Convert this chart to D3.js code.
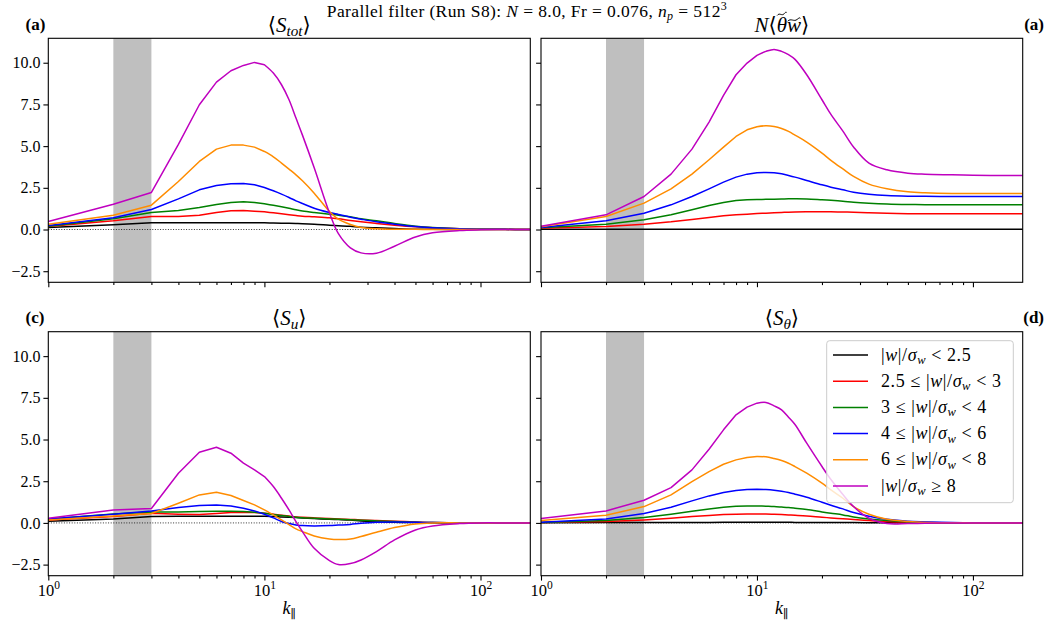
<!DOCTYPE html>
<html>
<head>
<meta charset="utf-8">
<script src="https://cdn.jsdelivr.net/npm/d3@7"></script>
<style>
  body { margin: 0; background: #fff; }
  svg { display: block; }
  text { font-family: "Liberation Serif", "DejaVu Serif", serif; fill: #000; }
</style>
</head>
<body>
<svg id="chart" width="1050" height="625"></svg>
<script>
// Parallel wavenumber k_par (integer shells, sampled)
const kPar = [1,2,3,4,5,6,7,8,9,10,11,12,13,14,15,17,20,22,25,28,33,40,50,60,80,100,130,170];

// Conditioning bins on |w|/sigma_w: lower / upper bounds and line colours
const binLo = [null, 2.5, 3, 4, 6, 8];
const binHi = [2.5, 3, 4, 6, 8, null];
const binColors = ["#000000", "#ff0000", "#008000", "#0000ff", "#ff8c00", "#bf00bf"];

// Filter band (shaded region)
const bandK = [2, 3];

// <S_tot> per bin (rows follow binLo/binHi order)
const sTot = [
  [0.12,0.28,0.40,0.40,0.40,0.40,0.40,0.40,0.40,0.40,0.39,0.38,0.37,0.36,0.35,0.32,0.26,0.23,0.19,0.14,0.10,0.06,0.02,0.01,0,0,0,0],
  [0.18,0.52,0.78,0.78,0.86,1.02,1.12,1.14,1.10,1.06,1.00,0.94,0.89,0.84,0.80,0.76,0.70,0.64,0.54,0.46,0.36,0.26,0.16,0.10,0.04,0.02,0.01,0],
  [0.20,0.64,1.02,1.14,1.32,1.50,1.62,1.66,1.62,1.54,1.45,1.36,1.27,1.18,1.11,1.02,0.92,0.86,0.76,0.64,0.52,0.36,0.20,0.12,0.04,0.02,0.01,0],
  [0.24,0.70,1.20,1.84,2.38,2.64,2.74,2.76,2.68,2.52,2.32,2.12,1.92,1.72,1.56,1.28,1.02,0.90,0.74,0.62,0.46,0.32,0.18,0.10,0.04,0.02,0.01,0],
  [0.32,0.86,1.46,2.88,4.08,4.82,5.06,5.06,4.94,4.68,4.36,3.98,3.62,3.28,2.92,2.18,1.08,0.62,0.30,0.12,0.04,0.02,0.01,0,0,0,0,0],
  [0.48,1.52,2.22,5.10,7.48,8.84,9.52,9.84,10.02,9.88,9.38,8.68,7.78,6.68,5.66,3.70,1.00,-0.25,-1.10,-1.40,-1.42,-1.00,-0.45,-0.20,-0.06,-0.02,0,0]
];

// N <theta~ w~> per bin
const thetaW = [
  [0.02,0.01,0.01,0.01,0.01,0.01,0.01,0.01,0.01,0.01,0.01,0.01,0.01,0.01,0.01,0.01,0.01,0.01,0.01,0.01,0.01,0.01,0.01,0.01,0.01,0.01,0.01,0.01],
  [0.08,0.18,0.32,0.46,0.60,0.72,0.82,0.88,0.92,0.96,0.98,1.00,1.02,1.04,1.05,1.06,1.06,1.06,1.05,1.04,1.01,0.98,0.95,0.94,0.94,0.94,0.94,0.94],
  [0.10,0.32,0.58,0.88,1.18,1.44,1.62,1.74,1.78,1.80,1.81,1.82,1.83,1.84,1.84,1.83,1.78,1.75,1.70,1.64,1.58,1.53,1.50,1.49,1.48,1.48,1.48,1.48],
  [0.12,0.52,0.98,1.48,1.98,2.44,2.84,3.14,3.32,3.40,3.42,3.40,3.34,3.24,3.14,2.94,2.68,2.54,2.38,2.24,2.12,2.04,2.00,1.99,1.98,1.98,1.98,1.98],
  [0.16,0.78,1.58,2.44,3.32,4.18,4.94,5.58,5.98,6.16,6.22,6.18,6.06,5.88,5.66,5.24,4.58,4.15,3.63,3.18,2.72,2.44,2.26,2.20,2.16,2.16,2.16,2.16],
  [0.20,0.88,1.98,3.32,4.82,6.44,8.04,9.28,9.98,10.44,10.68,10.80,10.68,10.48,10.20,9.28,7.78,6.90,5.90,4.95,3.98,3.58,3.38,3.32,3.28,3.25,3.24,3.24]
];

// <S_u> per bin
const sU = [
  [0.10,0.24,0.38,0.40,0.40,0.40,0.40,0.40,0.40,0.40,0.39,0.36,0.34,0.32,0.30,0.26,0.22,0.20,0.17,0.12,0.08,0.04,0.02,0.01,0,0,0,0],
  [0.18,0.38,0.58,0.52,0.50,0.56,0.62,0.64,0.62,0.58,0.52,0.46,0.41,0.36,0.34,0.30,0.26,0.24,0.21,0.18,0.14,0.10,0.06,0.02,0.01,0,0,0],
  [0.24,0.54,0.66,0.66,0.68,0.70,0.70,0.68,0.64,0.58,0.51,0.44,0.39,0.34,0.31,0.28,0.24,0.22,0.19,0.16,0.12,0.08,0.04,0.02,0.01,0,0,0],
  [0.24,0.52,0.72,0.92,1.04,1.08,1.02,0.88,0.72,0.52,0.30,0.08,-0.04,-0.12,-0.16,-0.18,-0.16,-0.13,-0.09,-0.02,0.04,0.06,0.04,0.02,0.01,0,0,0],
  [0.18,0.42,0.56,1.18,1.68,1.84,1.64,1.34,1.08,0.78,0.48,0.18,-0.10,-0.36,-0.52,-0.78,-0.96,-1.00,-0.97,-0.82,-0.56,-0.28,-0.06,0,0,0,0,0],
  [0.28,0.78,0.86,2.98,4.24,4.54,4.18,3.58,3.18,2.78,2.18,1.48,0.78,0.08,-0.52,-1.52,-2.26,-2.50,-2.44,-2.22,-1.72,-1.02,-0.42,-0.18,-0.04,0,0,0]
];

// <S_theta> per bin
const sTheta = [
  [0.01,0.02,0.02,0.03,0.03,0.03,0.04,0.04,0.04,0.04,0.04,0.04,0.04,0.04,0.03,0.03,0.03,0.02,0.02,0.02,0.01,0.01,0,0,0,0,0,0],
  [0.02,0.08,0.18,0.28,0.38,0.44,0.50,0.52,0.54,0.54,0.54,0.52,0.50,0.48,0.46,0.42,0.34,0.30,0.25,0.20,0.14,0.08,0.04,0.02,0.01,0,0,0],
  [0.02,0.14,0.32,0.52,0.70,0.84,0.94,1.00,1.02,1.02,1.00,0.98,0.95,0.92,0.88,0.80,0.66,0.58,0.48,0.36,0.24,0.14,0.06,0.02,0.01,0,0,0],
  [0.04,0.24,0.56,0.94,1.32,1.62,1.82,1.94,2.00,2.02,2.00,1.96,1.90,1.82,1.72,1.54,1.24,1.06,0.84,0.62,0.40,0.22,0.10,0.06,0.02,0.01,0,0],
  [0.14,0.46,0.98,1.68,2.48,3.08,3.52,3.78,3.92,3.98,3.96,3.86,3.74,3.58,3.38,2.98,2.38,1.98,1.48,0.98,0.52,0.22,0.08,0.02,0.01,0,0,0],
  [0.26,0.72,1.36,2.12,3.18,4.42,5.58,6.48,6.94,7.18,7.22,7.02,6.78,6.34,5.90,4.78,3.38,2.60,1.70,0.98,0.28,-0.04,-0.04,-0.02,0,0,0,0]
];

const yTicks = [-2.5, 0, 2.5, 5, 7.5, 10];
const xMajor = [1, 10, 100];
const xMinor = [2,3,4,5,6,7,8,9,20,30,40,50,60,70,80,90];

// ---- layout ----
const svg = d3.select("#chart");
svg.append("rect").attr("width", 1050).attr("height", 625).attr("fill", "#fff");

const colBox = [{x0: 48.3, x1: 530.3}, {x0: 541, x1: 1022.7}];
const rowBox = [{y0: 38.3, y1: 282.3}, {y0: 331.7, y1: 575.7}];

// shared y-range with 5% padding (sharey)
const allVals = [sTot, thetaW, sU, sTheta].flat(2);
const yMin = d3.min(allVals), yMax = d3.max(allVals);
const yPad = 0.05 * (yMax - yMin);
const yDomain = [yMin - yPad, yMax + yPad];
const xDomain = [kPar[0], kPar[kPar.length - 1]];

const panels = [
  {data: sTot,   row: 0, col: 0, tag: "(a)", tagSide: "left",  title: "tot"},
  {data: thetaW, row: 0, col: 1, tag: "(a)", tagSide: "right", title: "thetaw"},
  {data: sU,     row: 1, col: 0, tag: "(c)", tagSide: "left",  title: "u"},
  {data: sTheta, row: 1, col: 1, tag: "(d)", tagSide: "right", title: "theta"}
];

const FS = 16;       // tick label size
const MAJ = 4.9, MIN = 2.8;

function writeS(t, sub) {
  t.append("tspan").text("\u27E8");
  t.append("tspan").attr("font-style", "italic").text("S");
  t.append("tspan").attr("font-style", "italic").attr("font-size", "0.72em").attr("dy", 4).text(sub);
  t.append("tspan").attr("dy", -4).text("\u27E9");
}

// small tilde accent drawn above a glyph box
function tildeOver(g, box, lift) {
  const w = box.width * 0.9, x0 = box.x + (box.width - w) / 2, y = box.y + lift;
  g.append("path")
    .attr("d", `M${x0},${y + 1.2} C${x0 + w * 0.25},${y - 2.2} ${x0 + w * 0.5},${y + 2.2} ${x0 + w * 0.75},${y - 0.6} S${x0 + w},${y - 1.6} ${x0 + w},${y - 1.6}`)
    .attr("fill", "none").attr("stroke", "#000").attr("stroke-width", 1);
}

// straight segments between the low shells, smooth through the dense high-k range
function seriesPath(x, y, vals) {
  const split = kPar.indexOf(10);
  const lin = d3.line().x((d, i) => x(kPar[i])).y(d => y(d));
  const smooth = d3.line().curve(d3.curveCatmullRom.alpha(0.5))
    .x((d, i) => x(kPar[i + split])).y(d => y(d));
  return lin(vals.slice(0, split + 1)) + smooth(vals.slice(split)).replace(/^M/, "L");
}

panels.forEach((p, pi) => {
  const cb = colBox[p.col], rb = rowBox[p.row];
  const x = d3.scaleLog().domain(xDomain).range([cb.x0, cb.x1]);
  const y = d3.scaleLinear().domain(yDomain).range([rb.y1, rb.y0]);
  const g = svg.append("g");

  const clipId = "clip" + pi;
  g.append("clipPath").attr("id", clipId).append("rect")
    .attr("x", cb.x0).attr("y", rb.y0).attr("width", cb.x1 - cb.x0).attr("height", rb.y1 - rb.y0);

  // filter band
  g.append("rect")
    .attr("x", x(bandK[0])).attr("width", x(bandK[1]) - x(bandK[0]))
    .attr("y", rb.y0).attr("height", rb.y1 - rb.y0)
    .attr("fill", "#bfbfbf");

  // zero reference line
  g.append("line")
    .attr("x1", cb.x0).attr("x2", cb.x1).attr("y1", y(0)).attr("y2", y(0))
    .attr("stroke", "#000").attr("stroke-width", 0.8).attr("stroke-dasharray", "1,1.6");

  const lg = g.append("g").attr("clip-path", `url(#${clipId})`);
  p.data.forEach((vals, si) => {
    lg.append("path").attr("d", seriesPath(x, y, vals))
      .attr("fill", "none").attr("stroke", binColors[si])
      .attr("stroke-width", 1.5).attr("stroke-linejoin", "round");
  });

  // x axis (major + minor)
  const xAxisMaj = d3.axisBottom(x).tickValues(xMajor).tickSize(MAJ).tickFormat(() => "");
  const xAxisMin = d3.axisBottom(x).tickValues(xMinor).tickSize(MIN).tickFormat(() => "");
  const gxm = g.append("g").attr("transform", `translate(0,${rb.y1})`).call(xAxisMin);
  const gx = g.append("g").attr("transform", `translate(0,${rb.y1})`).call(xAxisMaj);
  [gx, gxm].forEach(a => {
    a.select(".domain").remove();
    a.selectAll(".tick line").attr("stroke", "#000").attr("stroke-width", 1.1);
  });
  if (p.row === 1) {
    gx.selectAll(".tick text").each(function(d) {
      const t = d3.select(this).attr("y", 20.5).attr("dy", null)
        .attr("font-size", 16.5).attr("font-family", null);
      t.text("10");
      t.append("tspan").attr("dy", -7).attr("font-size", 11.5).text(Math.round(Math.log10(d)));
    });
    svg.append("text")
      .attr("x", (cb.x0 + cb.x1) / 2).attr("y", 614)
      .attr("text-anchor", "middle").attr("font-size", 18)
      .call(t => {
        t.append("tspan").attr("font-style", "italic").text("k");
        t.append("tspan").attr("font-size", 12).attr("dy", 4).text("\u2225");
      });
  }

  // y axis
  const yAxis = d3.axisLeft(y).tickValues(yTicks).tickSize(MAJ).tickPadding(3)
    .tickFormat(d => p.col === 0 ? (d < 0 ? "\u2212" + (-d).toFixed(1) : d.toFixed(1)) : "");
  const gy = g.append("g").attr("transform", `translate(${cb.x0},0)`).call(yAxis);
  gy.select(".domain").remove();
  gy.selectAll(".tick line").attr("stroke", "#000").attr("stroke-width", 1.1);
  gy.selectAll(".tick text").attr("font-size", FS).attr("font-family", null).attr("fill", "#000");

  // frame
  g.append("rect")
    .attr("x", cb.x0).attr("y", rb.y0).attr("width", cb.x1 - cb.x0).attr("height", rb.y1 - rb.y0)
    .attr("fill", "none").attr("stroke", "#000").attr("stroke-width", 1.1);

  // panel title
  const tt = svg.append("text")
    .attr("x", (cb.x0 + cb.x1) / 2).attr("y", rb.y0 - 6.5)
    .attr("text-anchor", "middle").attr("font-size", 21);
  if (p.title === "thetaw") {
    tt.append("tspan").attr("font-style", "italic").text("N");
    tt.append("tspan").text("\u27E8");
    tt.append("tspan").attr("font-style", "italic").text("\u03B8");
    tt.append("tspan").attr("font-style", "italic").text("w");
    tt.append("tspan").text("\u27E9");
    const node = tt.node();
    tildeOver(svg, node.getExtentOfChar(2), 1.5);
    const wb = node.getExtentOfChar(3);
    tildeOver(svg, {x: wb.x, y: wb.y + wb.height * 0.3, width: wb.width}, 0);
  } else if (p.title === "theta") {
    writeS(tt, "\u03B8");
  } else {
    writeS(tt, p.title);
  }

  // panel tag
  svg.append("text")
    .attr("x", p.tagSide === "left" ? 25.5 : 1044)
    .attr("y", rb.y0 - 8.5)
    .attr("text-anchor", p.tagSide === "left" ? "start" : "end")
    .attr("font-size", 17).attr("font-weight", "bold")
    .text(p.tag);

  // legend in the S_theta panel
  if (p.title === "theta") {
    const lx = 826.7, ly = 340.7, lw = 186.6, lh = 162;
    const leg = svg.append("g");
    leg.append("rect").attr("x", lx).attr("y", ly).attr("width", lw).attr("height", lh)
      .attr("rx", 3).attr("fill", "#fff").attr("fill-opacity", 0.8)
      .attr("stroke", "#cccccc").attr("stroke-width", 1);
    binColors.forEach((c, i) => {
      const yy = 355 + i * 26.2;
      leg.append("line").attr("x1", 833).attr("x2", 868).attr("y1", yy).attr("y2", yy)
        .attr("stroke", c).attr("stroke-width", 1.5);
      const t = leg.append("text").attr("x", 881).attr("y", yy + 5.5)
        .attr("font-size", 18).attr("letter-spacing", 0.6);
      if (binLo[i] !== null && binHi[i] !== null) t.append("tspan").text(binLo[i] + " \u2264 ");
      t.append("tspan").text("|");
      t.append("tspan").attr("font-style", "italic").text("w");
      t.append("tspan").text("|/");
      t.append("tspan").attr("font-style", "italic").text("\u03C3");
      t.append("tspan").attr("font-style", "italic").attr("font-size", 12.5).attr("dy", 3.5).text("w");
      const rest = binHi[i] !== null ? " < " + binHi[i] : " \u2265 " + binLo[i];
      t.append("tspan").attr("dy", -3.5).text(rest);
    });
  }
});

// figure title
const st = svg.append("text").attr("x", 527).attr("y", 17)
  .attr("text-anchor", "middle").attr("font-size", 17.5).attr("letter-spacing", 0.4);
st.append("tspan").text("Parallel filter (Run S8): ");
st.append("tspan").attr("font-style", "italic").text("N");
st.append("tspan").text(" = 8.0, Fr = 0.076, ");
st.append("tspan").attr("font-style", "italic").text("n");
st.append("tspan").attr("font-style", "italic").attr("font-size", 12).attr("dy", 3).text("p");
st.append("tspan").attr("dy", -3).text(" = 512");
st.append("tspan").attr("font-size", 12).attr("dy", -7).text("3");
</script>
</body>
</html>
